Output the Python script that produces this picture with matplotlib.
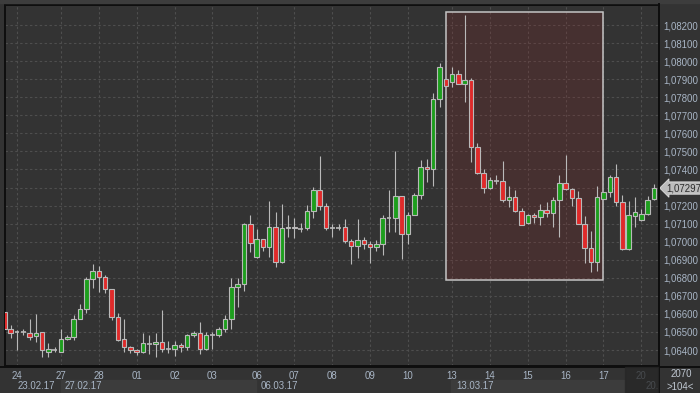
import matplotlib
matplotlib.use("Agg")
import matplotlib.pyplot as plt
from matplotlib.patches import Rectangle
from matplotlib.lines import Line2D
from matplotlib.transforms import blended_transform_factory, Bbox, TransformedBbox

# EUR/USD 4H candles, 23.02.17 - 20.03.17
opens = [
    1.06609, 1.06515, 1.06500, 1.06497, 1.06493, 1.06476, 1.06498, 1.06389, 1.06400, 1.06387,
    1.06459, 1.06470, 1.06570, 1.06625, 1.06792, 1.06839, 1.06806, 1.06736, 1.06581, 1.06459,
    1.06415, 1.06400, 1.06389, 1.06437, 1.06432, 1.06443, 1.06407, 1.06404, 1.06426, 1.06415,
    1.06481, 1.06493, 1.06404, 1.06481, 1.06481, 1.06515, 1.06573, 1.06751, 1.06764, 1.07096,
    1.06917, 1.07013, 1.06969, 1.07083, 1.06886, 1.07074, 1.07083, 1.07072, 1.07076, 1.07172,
    1.07285, 1.07199, 1.07077, 1.07077, 1.07080, 1.07002, 1.06974, 1.07008, 1.06985, 1.06969,
    1.06985, 1.07129, 1.07129, 1.07251, 1.07041, 1.07146, 1.07257, 1.07415, 1.07401, 1.07789,
    1.07899, 1.07883, 1.07927, 1.07872, 1.07894, 1.07526, 1.07382, 1.07296, 1.07338, 1.07334,
    1.07229, 1.07246, 1.07172, 1.07102, 1.07146, 1.07135, 1.07174, 1.07157, 1.07229, 1.07323,
    1.07290, 1.07240, 1.07096, 1.06963, 1.06886, 1.07235, 1.07277, 1.07357, 1.07221, 1.06958,
    1.07142, 1.07118, 1.07152, 1.07235]
highs = [
    1.06616, 1.06538, 1.06511, 1.06518, 1.06570, 1.06599, 1.06500, 1.06437, 1.06417, 1.06515,
    1.06483, 1.06592, 1.06653, 1.06806, 1.06876, 1.06865, 1.06815, 1.06738, 1.06603, 1.06570,
    1.06422, 1.06407, 1.06493, 1.06483, 1.06493, 1.06622, 1.06452, 1.06452, 1.06440, 1.06489,
    1.06505, 1.06555, 1.06500, 1.06500, 1.06526, 1.06592, 1.06797, 1.06797, 1.07103, 1.07148,
    1.07070, 1.07013, 1.07225, 1.07163, 1.07209, 1.07148, 1.07129, 1.07102, 1.07203, 1.07304,
    1.07474, 1.07213, 1.07096, 1.07096, 1.07124, 1.07013, 1.07124, 1.07024, 1.07002, 1.07008,
    1.07148, 1.07286, 1.07501, 1.07251, 1.07163, 1.07270, 1.07452, 1.07456, 1.07822, 1.07988,
    1.07899, 1.07966, 1.07949, 1.08255, 1.07905, 1.07545, 1.07401, 1.07357, 1.07368, 1.07447,
    1.07307, 1.07286, 1.07188, 1.07152, 1.07160, 1.07207, 1.07218, 1.07249, 1.07368, 1.07480,
    1.07297, 1.07282, 1.07142, 1.07059, 1.07307, 1.07277, 1.07369, 1.07430, 1.07259, 1.07227,
    1.07246, 1.07179, 1.07253, 1.07318]
lows = [
    1.06511, 1.06465, 1.06400, 1.06481, 1.06455, 1.06446, 1.06363, 1.06360, 1.06389, 1.06387,
    1.06454, 1.06455, 1.06570, 1.06607, 1.06742, 1.06723, 1.06714, 1.06566, 1.06452, 1.06389,
    1.06382, 1.06374, 1.06385, 1.06378, 1.06363, 1.06391, 1.06382, 1.06367, 1.06389, 1.06400,
    1.06474, 1.06378, 1.06400, 1.06407, 1.06470, 1.06500, 1.06515, 1.06636, 1.06727, 1.06944,
    1.06911, 1.06950, 1.06917, 1.06861, 1.06880, 1.07024, 1.07019, 1.07055, 1.07063, 1.07133,
    1.07175, 1.07065, 1.07024, 1.07065, 1.06991, 1.06878, 1.06911, 1.06961, 1.06884, 1.06947,
    1.06928, 1.07055, 1.07055, 1.06906, 1.06985, 1.07146, 1.07235, 1.07332, 1.07310, 1.07744,
    1.07861, 1.07855, 1.07872, 1.07775, 1.07443, 1.07375, 1.07268, 1.07290, 1.07319, 1.07218,
    1.07190, 1.07166, 1.07091, 1.07098, 1.07102, 1.07094, 1.07138, 1.07083, 1.07028, 1.07285,
    1.07199, 1.07096, 1.06884, 1.06834, 1.06839, 1.07235, 1.07249, 1.07198, 1.06954, 1.06954,
    1.07080, 1.07116, 1.07148, 1.07231]
closes = [
    1.06515, 1.06493, 1.06497, 1.06500, 1.06474, 1.06493, 1.06400, 1.06404, 1.06401, 1.06459,
    1.06470, 1.06570, 1.06625, 1.06792, 1.06839, 1.06806, 1.06736, 1.06581, 1.06455, 1.06415,
    1.06400, 1.06389, 1.06437, 1.06435, 1.06443, 1.06404, 1.06408, 1.06426, 1.06415, 1.06481,
    1.06496, 1.06404, 1.06481, 1.06483, 1.06515, 1.06573, 1.06751, 1.06764, 1.07096, 1.06991,
    1.07013, 1.06969, 1.07083, 1.06886, 1.07074, 1.07083, 1.07074, 1.07073, 1.07172, 1.07285,
    1.07199, 1.07077, 1.07079, 1.07076, 1.07002, 1.06974, 1.07008, 1.06985, 1.06969, 1.06985,
    1.07129, 1.07131, 1.07251, 1.07041, 1.07146, 1.07257, 1.07415, 1.07401, 1.07789, 1.07966,
    1.07861, 1.07927, 1.07872, 1.07894, 1.07526, 1.07382, 1.07296, 1.07340, 1.07339, 1.07229,
    1.07249, 1.07172, 1.07091, 1.07146, 1.07135, 1.07174, 1.07157, 1.07229, 1.07323, 1.07290,
    1.07240, 1.07096, 1.06963, 1.06889, 1.07246, 1.07277, 1.07357, 1.07221, 1.06958, 1.07146,
    1.07164, 1.07152, 1.07231, 1.07297]

# day separators (bar index where each day starts)
day_labels = ['24', '27', '28', '01', '02', '03', '06', '07', '08', '09',
              '10', '13', '14', '15', '16', '17', '20']
day_idx = [2, 9, 15, 21, 27, 33, 40, 46, 52, 58, 64, 71, 77, 83, 89, 95, 101]
week_labels = ['23.02.17', '27.02.17', '06.03.17', '13.03.17', '20.03.17']
week_idx = [1.5, 9, 40, 71, 101]

price_ticks = [1.064, 1.065, 1.066, 1.067, 1.068, 1.069, 1.070, 1.071, 1.072, 1.073,
               1.074, 1.075, 1.076, 1.077, 1.078, 1.079, 1.080, 1.081, 1.082]

# highlighted zone
box_x0, box_x1 = 70, 95
box_low, box_high = 1.06788, 1.08274
last_price = 1.07297
bar_count_text = '>104<'
scale_text = '2070'

BG = '#333333'
GRID = '#4e4e4e'
TXT = '#a9b6c6'
SEP = '#0e0e0e'
UP = '#1d9e1d'
DOWN = '#e02a2a'
OUTLINE = '#b9b9b9'

plt.rcParams['font.family'] = ['Liberation Sans', 'DejaVu Sans']
plt.rcParams['font.size'] = 6.9

W, H = 700, 393
fig = plt.figure(figsize=(7, 3.93), dpi=100, facecolor=BG)
ax = fig.add_axes([4.5 / W, 1 - 366 / H, (659 - 4.5) / W, (366 - 5) / H])
ax.set_facecolor(BG)

ax.set_xlim(0.03, 103.8)
ax.set_ylim(1.063114, 1.083108)

# grid + scales; the label under the last-price marker is hidden like in the terminal
ax.set_xticks(day_idx)
ax.set_xticklabels(day_labels, color=TXT)
ax.set_yticks(price_ticks)
ytl = [f'{p:.5f}'.replace('.', ',') for p in price_ticks]
ytl = ['' if abs(p - last_price) < 0.0004 else t for p, t in zip(price_ticks, ytl)]
ax.set_yticklabels(ytl, color=TXT)
ax.yaxis.tick_right()
ax.tick_params(axis='both', length=0)
ax.tick_params(axis='x', pad=3.3)
ax.tick_params(axis='y', pad=2.8)
ax.grid(True, color=GRID, linestyle=(0, (2.2, 2.2)), linewidth=0.8, zorder=0)
ax.set_axisbelow(True)

for s in ['left', 'top', 'right', 'bottom']:
    ax.spines[s].set_color(SEP)
    ax.spines[s].set_linewidth(1.4)

# selection box
ax.add_patch(Rectangle((box_x0, box_low), box_x1 - box_x0, box_high - box_low,
                       facecolor=(0.55, 0.15, 0.15, 0.22), edgecolor='#c4c4c4',
                       linewidth=1.1, zorder=1))

# candles
bw = 0.72
for i, (o, h, l, c) in enumerate(zip(opens, highs, lows, closes)):
    ax.vlines(i, l, h, color=OUTLINE, linewidth=0.8, zorder=2)
    if abs(c - o) < 0.00004:
        ax.hlines((o + c) / 2, i - bw / 2, i + bw / 2, color=OUTLINE, linewidth=1.2, zorder=3)
    else:
        ax.bar(i, abs(c - o), bottom=min(o, c), width=bw,
               color=UP if c > o else DOWN, edgecolor=OUTLINE, linewidth=0.8, zorder=3)

# week labels on the second row, clipped at the price scale
time_clip = TransformedBbox(Bbox([[0, 0], [658 / W, 1]]), fig.transFigure)
tr = blended_transform_factory(ax.transData, fig.transFigure)
for lab, x in zip(week_labels, week_idx):
    t = ax.text(x + 0.6, 1 - 386 / H, lab, transform=tr, ha='left', va='center',
                color=TXT, clip_on=True)
    t.set_clip_box(time_clip)

# alternating week bands / current period shade in the time scale
fig.patches.append(Rectangle((61 / W, 0), (256 - 61) / W, 13 / H,
                             transform=fig.transFigure, color='#3c3c3c', zorder=-1))
fig.patches.append(Rectangle((451 / W, 0), (625 - 451) / W, 13 / H,
                             transform=fig.transFigure, color='#3c3c3c', zorder=-1))
fig.patches.append(Rectangle((625 / W, 0), (658 - 625) / W, 26 / H,
                             transform=fig.transFigure, color='#262626', zorder=5, alpha=0.75))
fig.patches.append(Rectangle((0, 1 - 3 / H), 1, 3 / H,
                             transform=fig.transFigure, color='#3d3d3d'))

# separators crossing the whole figure
fig.add_artist(Line2D([0, 1], [1 - 366.5 / H, 1 - 366.5 / H], color=SEP, lw=1.4))
fig.add_artist(Line2D([659 / W, 659 / W], [0, 1 - 4 / H], color=SEP, lw=1.4))

# last price marker
ty = blended_transform_factory(ax.transAxes, ax.transData)
ax.text(1.011, last_price, f'{last_price:.5f}'.replace('.', ','), transform=ty,
        ha='left', va='center', color='#2b2b2b', clip_on=False, zorder=6,
        bbox=dict(boxstyle='larrow,pad=0.12', fc='#bdbdbd', ec='#e2e2e2', lw=0.6))

fig.text(681.5 / W, 1 - 374 / H, scale_text, ha='center', va='center', color='#c0c8d2')
fig.text(680.5 / W, 1 - 386.5 / H, bar_count_text, ha='center', va='center', color='#c0c8d2')

fig.savefig('out.png', dpi=100, facecolor=BG)
